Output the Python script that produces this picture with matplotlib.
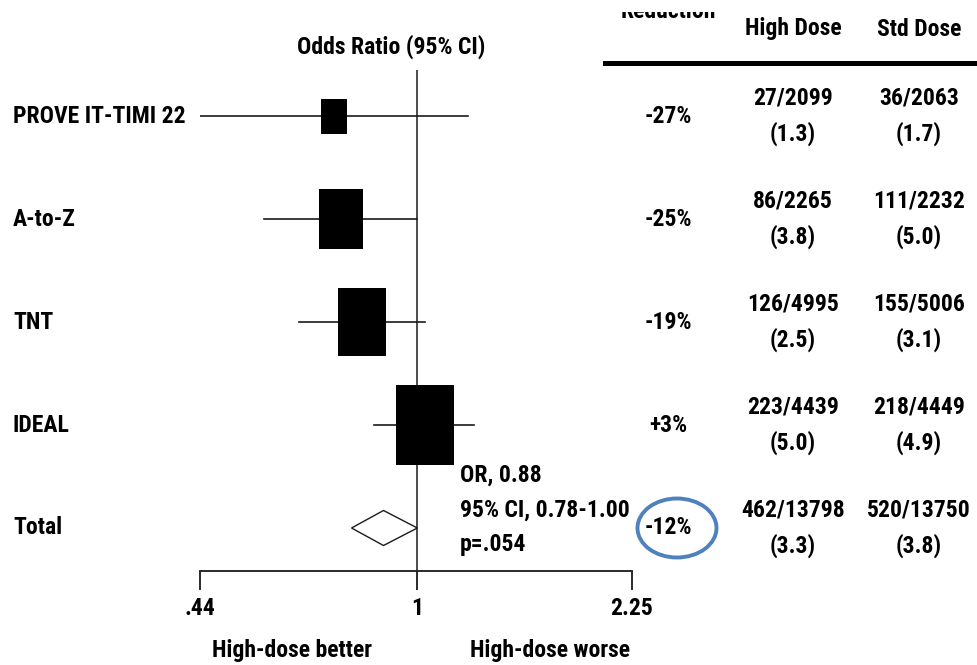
import matplotlib
matplotlib.use('Agg')
import matplotlib.pyplot as plt
import matplotlib.transforms as mtransforms
from matplotlib import font_manager
from matplotlib.font_manager import FontProperties
from matplotlib.path import Path
from matplotlib.patches import Ellipse, Polygon, Rectangle
from matplotlib.lines import Line2D

# Datos de los ensayos (dosis alta vs. dosis estándar)
estudios = ['PROVE IT-TIMI 22', 'A-to-Z', 'TNT', 'IDEAL']
reduccion = [-27, -25, -19, 3]          # cambio relativo (%)
ic_bajo = [0.44, 0.56, 0.64, 0.85]
ic_alto = [1.21, 1.00, 1.03, 1.24]

# Resultado combinado
or_total = 0.88
ic_total = (0.78, 1.00)
reduccion_total = -12
p_total = '.054'

# Eventos / pacientes (%) por brazo, la última fila es el total
eventos_alta = [27, 86, 126, 223, 462]
n_alta = [2099, 2265, 4995, 4439, 13798]
pct_alta = [1.3, 3.8, 2.5, 5.0, 3.3]
eventos_std = [36, 111, 155, 218, 520]
n_std = [2063, 2232, 5006, 4449, 13750]
pct_std = [1.7, 5.0, 3.1, 4.9, 3.8]

ticks = [0.44, 1, 2.25]
tick_labels = ['.44', '1', '2.25']

odds_ratio = [1 + r / 100 for r in reduccion]


# Buscar una sans estrecha (tipo Helvetica Condensed); si no hay, Liberation Sans más pequeña
def buscar_estrecha():
    preferidas = ['liberation sans narrow', 'roboto condensed', 'open sans condensed',
                  'noto sans condensed', 'dejavu sans condensed', 'dejavu sans']
    cands = []
    for f in font_manager.fontManager.ttflist:
        txt = (f.name + ' ' + f.fname).lower()
        estrecha = ('narrow' in txt or 'condensed' in txt
                    or f.stretch in ('condensed', 'semi-condensed', 'extra-condensed'))
        if not estrecha or 'serif' in f.name.lower() or 'mono' in txt or f.style != 'normal':
            continue
        cands.append(f)
    for pref in preferidas:
        grupo = [f for f in cands if pref in (f.name + ' ' + f.fname).lower()]
        if not grupo:
            continue
        reg = [f for f in grupo if f.weight in (400, 'normal', 'regular')]
        neg = [f for f in grupo if f.weight in (700, 'bold')]
        reg = reg[0] if reg else grupo[0]
        neg = neg[0] if neg else reg
        return reg.fname, neg.fname
    return None


estrecha = buscar_estrecha()
if estrecha:
    fs = 17
    fp = FontProperties(fname=estrecha[1], size=fs)
else:
    fs = 14
    fp = FontProperties(family='Liberation Sans', weight='bold', size=fs)

color_linea = '#1a1a1a'

W, H = 978, 665
fig = plt.figure(figsize=(W / 100, H / 100), dpi=100)


def px(x, y):
    return x / W, 1 - y / H


# Ejes del forest plot: filas 0..4 (la 4 es el total)
y0, y1 = 70, 571
fila0, paso = 116, 103
ax = fig.add_axes([200 / W, 1 - y1 / H, (632 - 200) / W, (y1 - y0) / H])
ax.set_xscale('log')
ax.set_xlim(0.44, 2.25)
ax.set_ylim((y1 - fila0) / paso, (y0 - fila0) / paso)
for lado in ['top', 'right', 'left']:
    ax.spines[lado].set_visible(False)
ax.spines['bottom'].set_linewidth(1.3)
ax.spines['bottom'].set_color(color_linea)
ax.set_yticks([])
ax.set_xticks(ticks)
ax.set_xticklabels(tick_labels, fontproperties=fp)
ax.xaxis.set_minor_locator(matplotlib.ticker.NullLocator())
ax.tick_params(axis='x', direction='out', length=14, width=1.3, pad=5, color=color_linea)
ax.axvline(1, color=color_linea, lw=1.1, zorder=1)

# Intervalos y cuadros (alto en px, según el peso del estudio)
alto_cuadro = [35, 60, 68, 80]
caja = Path([(-0.72, -1), (0.72, -1), (0.72, 1), (-0.72, 1), (-0.72, -1)],
            [Path.MOVETO, Path.LINETO, Path.LINETO, Path.LINETO, Path.CLOSEPOLY])
for i in range(len(estudios)):
    ax.plot([ic_bajo[i], ic_alto[i]], [i, i], color=color_linea, lw=1.2, zorder=2)
    ax.plot(odds_ratio[i], i, marker=caja, markersize=alto_cuadro[i] * 0.72,
            color='black', markeredgewidth=0, zorder=3, linestyle='none')

# Diamante del total
fila_t = len(estudios)
h = 0.17
diamante = Polygon([(ic_total[0], fila_t), (or_total, fila_t - h),
                    (ic_total[1], fila_t), (or_total, fila_t + h)],
                   closed=True, facecolor='white', edgecolor=color_linea, lw=1.0, zorder=3)
ax.add_patch(diamante)

# Textos
fig.text(*px(391, 47), 'Odds Ratio (95% CI)', ha='center', va='center', fontproperties=fp)
fig.text(*px(292, 657), 'High-dose better', ha='center', va='baseline', fontproperties=fp)
fig.text(*px(550, 657), 'High-dose worse', ha='center', va='baseline', fontproperties=fp)

fig.text(*px(460, 475), f'OR, {or_total:.2f}', ha='left', va='center', fontproperties=fp)
fig.text(*px(460, 510), f'95% CI, {ic_total[0]:.2f}-{ic_total[1]:.2f}', ha='left',
         va='center', fontproperties=fp)
fig.text(*px(460, 545), f'p={p_total}', ha='left', va='center', fontproperties=fp)

filas = mtransforms.blended_transform_factory(fig.transFigure, ax.transData)
etiquetas = estudios + ['Total']
cambios = reduccion + [reduccion_total]
d = 18 / paso
for i, nombre in enumerate(etiquetas):
    fig.text(13 / W, i, nombre, transform=filas, ha='left', va='center', fontproperties=fp)
    fig.text(668 / W, i, f'{cambios[i]:+d}%', transform=filas,
             ha='center', va='center', fontproperties=fp)
    fig.text(793 / W, i - d, f'{eventos_alta[i]}/{n_alta[i]}', transform=filas,
             ha='center', va='center', fontproperties=fp)
    fig.text(793 / W, i + d, f'({pct_alta[i]:.1f})', transform=filas,
             ha='center', va='center', fontproperties=fp)
    fig.text(919 / W, i - d, f'{eventos_std[i]}/{n_std[i]}', transform=filas,
             ha='center', va='center', fontproperties=fp)
    fig.text(919 / W, i + d, f'({pct_std[i]:.1f})', transform=filas,
             ha='center', va='center', fontproperties=fp)

# Cabecera de la tabla (la primera línea queda cortada por el borde)
fig.text(*px(668, 18), 'Reduction', ha='center', va='baseline', fontproperties=fp)
fig.add_artist(Rectangle(px(600, 12), 140 / W, 12 / H, facecolor='white',
                         edgecolor='none', transform=fig.transFigure, zorder=5))
fig.text(*px(793, 29), 'High Dose', ha='center', va='center', fontproperties=fp)
fig.text(*px(919, 29), 'Std Dose', ha='center', va='center', fontproperties=fp)
fig.add_artist(Line2D([605 / W, 1], [1 - 63 / H] * 2, color='black', lw=3.6,
                      transform=fig.transFigure))

# Resaltado del total
fig.add_artist(Ellipse((677 / W, fila_t), 79 / W, 59 / paso, transform=filas,
                       fill=False, edgecolor='#4F81BD', lw=2.8))

fig.savefig('out.png', dpi=100)
